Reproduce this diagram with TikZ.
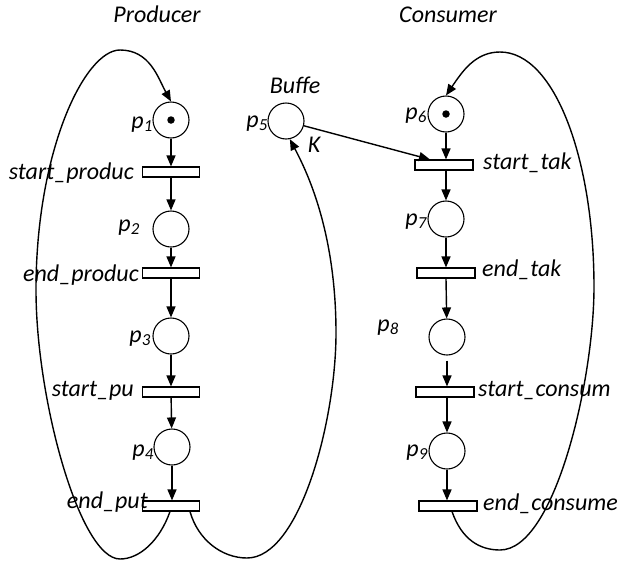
\documentclass[tikz,border=0pt]{standalone}
\usepackage{fontspec}
\setmainfont{Carlito}
\usetikzlibrary{arrows.meta}
\begin{document}
\begin{tikzpicture}[x=1pt,y=-1pt,
  place/.style={circle,draw,line width=1.1pt,minimum size=36pt,inner sep=0pt},
  trans/.style={rectangle,draw,line width=1.1pt,minimum width=57pt,minimum height=10pt,inner sep=0pt},
  flow/.style={line width=1.4pt,-{Triangle[length=11pt,width=9pt]}},
  lbl/.style={font=\fontsize{24}{26}\selectfont\itshape,inner sep=0pt,text=black},
  tok/.style={circle,fill,minimum size=7.5pt,inner sep=0pt}]
\useasboundingbox (0,0) rectangle (619,563);

% titles
\node[lbl,anchor=base] (tprod) at (157,22) {Producer};
\node[lbl,anchor=base] (tcons) at (448,22) {Consumer};
\node[lbl,anchor=base] (tbuf) at (295,93) {Buffe};

% producer column
\node[place] (p1) at (171,120) {};
\node[tok] (k1) at (p1) {};
\node[trans] (st1) at (171,172) {};
\node[place] (p2) at (171,229) {};
\node[trans] (ep1) at (171,273) {};
\node[place] (p3) at (171,336) {};
\node[trans] (sp) at (171,392) {};
\node[place] (p4) at (172,447) {};
\node[trans] (ep) at (171,506) {};

% buffer
\node[place] (p5) at (286,121) {};

% consumer column
\node[place] (p6) at (446,114) {};
\node[tok] (k6) at (p6) {};
\node[trans,minimum width=58pt] (stk) at (444,165) {};
\node[place] (p7) at (446,219) {};
\node[trans,minimum width=58pt] (etk) at (446,273) {};
\node[place] (p8) at (447,337) {};
\node[trans,minimum width=58pt] (sc) at (445,392) {};
\node[place] (p9) at (447,451) {};
\node[trans,minimum width=58pt] (ec) at (448,506) {};

% place labels
\node[lbl,anchor=base east] (lp1) at (153,128) {p\textsubscript{1}};
\node[lbl,anchor=base east] (lp2) at (140,231) {p\textsubscript{2}};
\node[lbl,anchor=base east] (lp3) at (151,342) {p\textsubscript{3}};
\node[lbl,anchor=base east] (lp4) at (154,456) {p\textsubscript{4}};
\node[lbl,anchor=base east] (lp5) at (268,127) {p\textsubscript{5}};
\node[lbl,anchor=base east] (lp6) at (427,119) {p\textsubscript{6}};
\node[lbl,anchor=base east] (lp7) at (427,225) {p\textsubscript{7}};
\node[lbl,anchor=base east] (lp8) at (399,331) {p\textsubscript{8}};
\node[lbl,anchor=base east] (lp9) at (428,456) {p\textsubscript{9}};
\node[lbl,anchor=base] (lk) at (314,152) {K};

% transition labels
\node[lbl,anchor=base east] (lst1) at (134,179) {start\_produc};
\node[lbl,anchor=base east] (lep1) at (139,281) {end\_produc};
\node[lbl,anchor=base east] (lsp) at (134,396) {start\_pu};
\node[lbl,anchor=base east] (lep) at (148,508) {end\_put};
\node[lbl,anchor=base west] (lstk) at (483,169) {start\_tak};
\node[lbl,anchor=base west] (letk) at (482,276) {end\_tak};
\node[lbl,anchor=base west] (lsc) at (478,396) {start\_consum};
\node[lbl,anchor=base west] (lec) at (483,510) {end\_consume};

% producer arcs
\draw[flow] (p1) -- (st1);
\draw[flow] (st1) -- (p2);
\draw[flow] (p2) -- (ep1);
\draw[flow] (ep1) -- (p3);
\draw[flow] (p3) -- (sp);
\draw[flow] (sp) -- (p4);
\draw[flow] (p4) -- ([xshift=1pt]ep.north);

% consumer arcs
\draw[flow] (p6.south) -- (p6.south |- stk.north);
\draw[flow] (p6.south |- stk.south) -- (p7);
\draw[flow] (p7) -- (p7 |- etk.north);
\draw[flow] (p7 |- etk.south) -- (p8);
\draw[flow,shorten <=5pt] (p8) -- (p8 |- sc.north);
\draw[flow] (p8 |- sc.south) -- (p9);
\draw[flow] (p9) -- (p9 |- ec.north);

% buffer to start_tak
\draw[flow] (p5) -- ([xshift=-14pt]stk.north);

% producer loop
\draw[flow] ([xshift=-1pt]ep.south) .. controls (160,540) and (140,559) .. (120,559)
  .. controls (80,559) and (36,400) .. (36,290)
  .. controls (36,150) and (85,50) .. (120,50)
  .. controls (150,50) and (158,78) .. (p1.north);

% end_put to buffer
\draw[flow] ([xshift=19pt]ep.south) .. controls (198,540) and (222,558) .. (247,558)
  .. controls (300,558) and (336,420) .. (336,333)
  .. controls (336,230) and (306,170) .. (p5.-78);

% consumer loop
\draw[flow] ([xshift=4pt]ec.south) .. controls (462,540) and (480,550) .. (500,550)
  .. controls (555,550) and (594,380) .. (594,287)
  .. controls (594,160) and (555,52) .. (500,52)
  .. controls (475,52) and (462,72) .. (p6.north);
\end{tikzpicture}
\end{document}
